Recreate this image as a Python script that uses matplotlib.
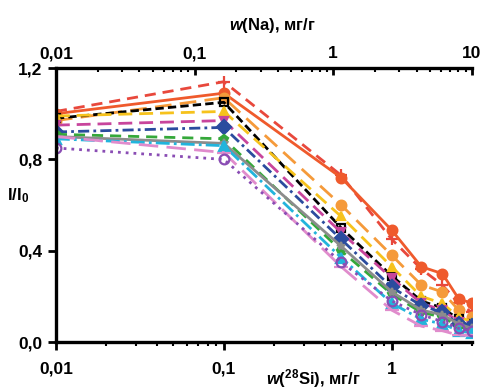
import numpy as np
import matplotlib.pyplot as plt
from matplotlib.ticker import FixedLocator, FuncFormatter, LogLocator, NullFormatter

plt.rcParams['font.family'] = ['Liberation Sans', 'DejaVu Sans']
plt.rcParams['font.weight'] = 'bold'
plt.rcParams['mathtext.fontset'] = 'custom'
plt.rcParams['mathtext.rm'] = 'Liberation Sans:bold'
plt.rcParams['mathtext.it'] = 'Liberation Sans:bold:italic'
plt.rcParams['mathtext.bf'] = 'Liberation Sans:bold'

# w(28Si), mg/g
si = [0.01, 0.1, 0.5, 1, 1.5, 2, 2.5, 3]

# relative intensity I/I0 for each analyte line
red_dash = [1.01, 1.14, 0.73, 0.45, 0.32, 0.25, 0.17, 0.13]
red_solid = [1.00, 1.09, 0.72, 0.49, 0.33, 0.30, 0.19, 0.17]
orange = [0.97, 1.07, 0.60, 0.38, 0.25, 0.22, 0.14, 0.11]
black = [0.98, 1.05, 0.50, 0.29, 0.18, 0.15, 0.10, 0.08]
yellow = [0.99, 1.01, 0.55, 0.33, 0.20, 0.17, 0.11, 0.09]
magenta = [0.95, 0.97, 0.48, 0.28, 0.17, 0.14, 0.09, 0.07]
navy = [0.92, 0.94, 0.45, 0.24, 0.16, 0.13, 0.08, 0.07]
green = [0.91, 0.89, 0.40, 0.21, 0.13, 0.11, 0.07, 0.05]
gray = [0.90, 0.87, 0.42, 0.22, 0.14, 0.12, 0.08, 0.06]
cyan = [0.89, 0.86, 0.37, 0.17, 0.10, 0.08, 0.05, 0.04]
pink = [0.90, 0.83, 0.33, 0.14, 0.07, 0.05, 0.03, 0.03]
purple = [0.85, 0.80, 0.35, 0.18, 0.12, 0.09, 0.06, 0.05]

series = [
    (red_dash, '#e8483c', (0, (4, 2.5)), '+', 9),
    (red_solid, '#ef5a2c', '-', 'o', 7),
    (orange, '#f59a3a', (0, (6, 3)), 'o', 7),
    (black, 'black', (0, (3, 1.5)), 's', 6),
    (yellow, '#f6c21c', (0, (5, 2.5)), '^', 6),
    (magenta, '#c8459c', (0, (5, 2.5)), 'v', 6),
    (navy, '#2b4c9e', (0, (4, 1.5, 1, 1.5)), 'D', 7),
    (green, '#35a83a', (0, (4, 2.5)), 'p', 6),
    (gray, '#8c8c8c', '-', '*', 6),
    (cyan, '#22b4dc', (0, (5, 1.5, 1, 1.5)), '^', 7),
    (pink, '#e08ccc', (0, (7, 3)), '_', 10),
    (purple, '#8a4db4', (0, (1, 1.8)), 'o', 7),
]

fig = plt.figure(figsize=(4.86, 3.91), dpi=100)
ax = fig.add_axes([0.115, 0.125, 0.856, 0.701])

for ys, c, ls, m, ms in series:
    mfc = 'none' if m in ('s', 'o') and c in ('black', '#8a4db4') else c
    ax.plot(si, ys, color=c, linestyle=ls, linewidth=2.0, marker=m,
            markersize=ms, markerfacecolor=mfc, markeredgecolor=c,
            markeredgewidth=1.6)

ax.set_xscale('log')
ax.set_xlim(0.01, 3)
ax.set_ylim(0, 1.2)
ax.yaxis.set_major_locator(FixedLocator([0, 0.4, 0.8, 1.2]))
ax.yaxis.set_major_formatter(FuncFormatter(lambda v, p: f'{v:.1f}'.replace('.', ',')))
ax.xaxis.set_major_locator(FixedLocator([0.01, 0.1, 1]))
ax.xaxis.set_major_formatter(FuncFormatter(lambda v, p: f'{v:g}'.replace('.', ',')))
ax.xaxis.set_minor_locator(LogLocator(base=10, subs=np.arange(2, 10)))
ax.xaxis.set_minor_formatter(NullFormatter())

for s in ['right', 'top']:
    ax.spines[s].set_visible(False)
for s in ['left', 'bottom']:
    ax.spines[s].set_linewidth(2.4)
ax.tick_params(axis='both', which='major', labelsize=12.5, width=2, length=6,
               direction='out')
ax.tick_params(axis='x', which='minor', width=1.5, length=3, direction='out')
ax.tick_params(axis='x', pad=8)

ax.set_xlabel(r'$w$($^{28}$Si), мг/г', fontsize=12, fontweight='bold')
ax.xaxis.set_label_coords(0.62, -0.09)
ax.set_ylabel(r'I/I$_0$', fontsize=12, fontweight='bold', rotation=0)
ax.yaxis.set_label_coords(-0.09, 0.5)

# top axis: w(Na)
ax2 = ax.twiny()
ax2.set_xscale('log')
ax2.set_xlim(0.01, 10)
ax2.xaxis.set_major_locator(FixedLocator([0.01, 0.1, 1, 10]))
ax2.xaxis.set_major_formatter(FuncFormatter(lambda v, p: f'{v:g}'.replace('.', ',')))
ax2.xaxis.set_minor_locator(LogLocator(base=10, subs=np.arange(2, 10)))
ax2.xaxis.set_minor_formatter(NullFormatter())
for s in ['right', 'left', 'bottom']:
    ax2.spines[s].set_visible(False)
ax2.spines['top'].set_linewidth(2.4)
ax2.tick_params(axis='x', which='major', labelsize=12.5, width=2, length=5,
                direction='in', pad=5)
ax2.tick_params(axis='x', which='minor', width=1.5, length=3, direction='in')
ax2.set_xlabel(r'$w$(Na), мг/г', fontsize=12, fontweight='bold')
ax2.xaxis.set_label_coords(0.52, 1.14)

fig.savefig('out.png', dpi=100)
